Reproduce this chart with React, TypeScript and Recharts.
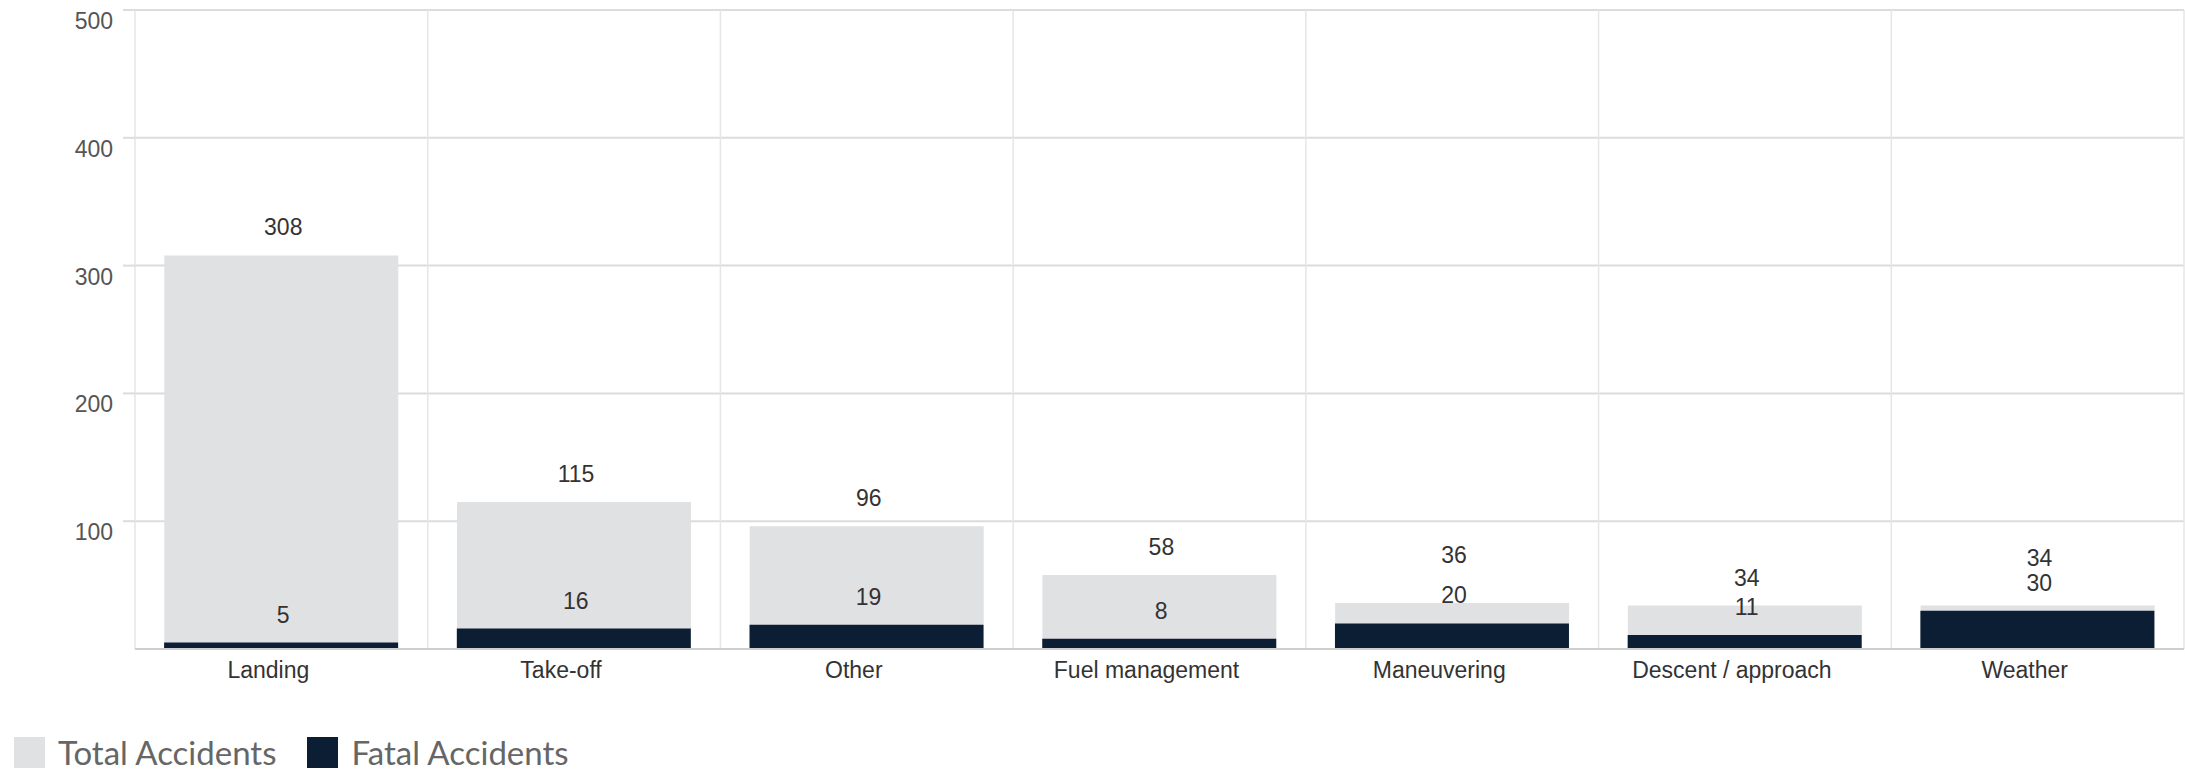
import React from 'react';
import { BarChart, Bar, XAxis, YAxis, CartesianGrid, Legend, LabelList } from 'recharts';

const categories = ['Landing', 'Take-off', 'Other', 'Fuel management', 'Maneuvering', 'Descent / approach', 'Weather'];
const totalAccidents = [308, 115, 96, 58, 36, 34, 34];
const fatalAccidents = [5, 16, 19, 8, 20, 11, 30];
const yTicks = [100, 200, 300, 400, 500];
const seriesNames = ['Total Accidents', 'Fatal Accidents'];
const seriesColors = ['#e0e1e3', '#0c1e34'];

const data = categories.map((c, i) => ({ category: c, total: totalAccidents[i], fatal: fatalAccidents[i] }));

const FONT = '"Liberation Sans", Arial, sans-serif';

const getBox = (props: any) => {
  const vb = props.viewBox && props.viewBox.width !== undefined ? props.viewBox : props;
  return { x: Number(vb.x), y: Number(vb.y), width: Number(vb.width), height: Number(vb.height) };
};

const renderFatalLabel = (props: any) => {
  const { x, y, width } = getBox(props);
  return (
    <text x={x + width / 2 + 2} y={y - 20} textAnchor="middle" fill="#333" fontSize={23} fontFamily={FONT}>
      {props.value}
    </text>
  );
};

const renderTotalLabel = (props: any) => {
  const { x, y, width, height } = getBox(props);
  const idx = props.index;
  const total = totalAccidents[idx];
  const fatal = fatalAccidents[idx];
  const gap = total > 0 ? height * (1 - fatal / total) : 0;
  const shift = gap < 25 ? 20 : 0;
  return (
    <text x={x + width / 2 + 2} y={y - 20 - shift} textAnchor="middle" fill="#333" fontSize={23} fontFamily={FONT}>
      {props.value}
    </text>
  );
};

const renderYTick = (props: any) => (
  <text x={props.x} y={props.y + 19} textAnchor="end" fill="#555" fontSize={23} fontFamily={FONT}>
    {props.payload.value}
  </text>
);

const renderLegend = (props: any) => {
  const payload = [...(props.payload || [])].sort(
    (a: any, b: any) => seriesNames.indexOf(a.value) - seriesNames.indexOf(b.value)
  );
  return (
    <div style={{ display: 'flex', alignItems: 'center' }}>
      {payload.map((p: any, i: number) => (
        <div key={i} style={{ display: 'flex', alignItems: 'center', marginRight: 31 }}>
          <div style={{ width: 31, height: 31, background: p.color, marginRight: 13 }} />
          <span style={{ fontFamily: 'Lato, "Open Sans", sans-serif', fontSize: 33, lineHeight: '31px', color: '#666', whiteSpace: 'nowrap' }}>
            {p.value}
          </span>
        </div>
      ))}
    </div>
  );
};

export default function App() {
  return (
    <div style={{ position: 'absolute', left: 0, top: 0, background: '#fff' }}>
      <BarChart
        width={2185}
        height={772}
        data={data}
        margin={{ top: 10, right: 1, bottom: 63, left: 0 }}
        barCategoryGap="10%"
        barGap="-80%"
      >
        <CartesianGrid horizontal={true} vertical={false} stroke="#dcdcdc" strokeWidth={2} />
        <CartesianGrid
          horizontal={false}
          vertical={true}
          stroke="#e6e6e6"
          strokeWidth={1.5}
          verticalCoordinatesGenerator={({ offset }: any) =>
            Array.from({ length: categories.length + 1 }, (_, i) => offset.left + (i * offset.width) / categories.length)
          }
        />
        <XAxis
          dataKey="category"
          interval={0}
          height={60}
          tickLine={false}
          tickSize={0}
          tickMargin={13}
          axisLine={{ stroke: '#cfcfcf', strokeWidth: 2 }}
          tick={{ fill: '#333', fontSize: 23, fontFamily: FONT, dx: -13 }}
        />
        <YAxis
          domain={[0, 500]}
          ticks={yTicks}
          width={135}
          axisLine={false}
          tickLine={{ stroke: '#dcdcdc', strokeWidth: 2 }}
          tickSize={12}
          tickMargin={10}
          tick={renderYTick}
        />
        <Legend
          layout="horizontal"
          verticalAlign="middle"
          align="center"
          itemSorter={null as any}
          wrapperStyle={{ left: 14, top: 737, width: 'auto' }}
          content={renderLegend}
        />
        <Bar dataKey="total" name={seriesNames[0]} fill={seriesColors[0]} isAnimationActive={false}>
          <LabelList dataKey="total" content={renderTotalLabel} />
        </Bar>
        <Bar dataKey="fatal" name={seriesNames[1]} fill={seriesColors[1]} isAnimationActive={false}>
          <LabelList dataKey="fatal" content={renderFatalLabel} />
        </Bar>
      </BarChart>
    </div>
  );
}
